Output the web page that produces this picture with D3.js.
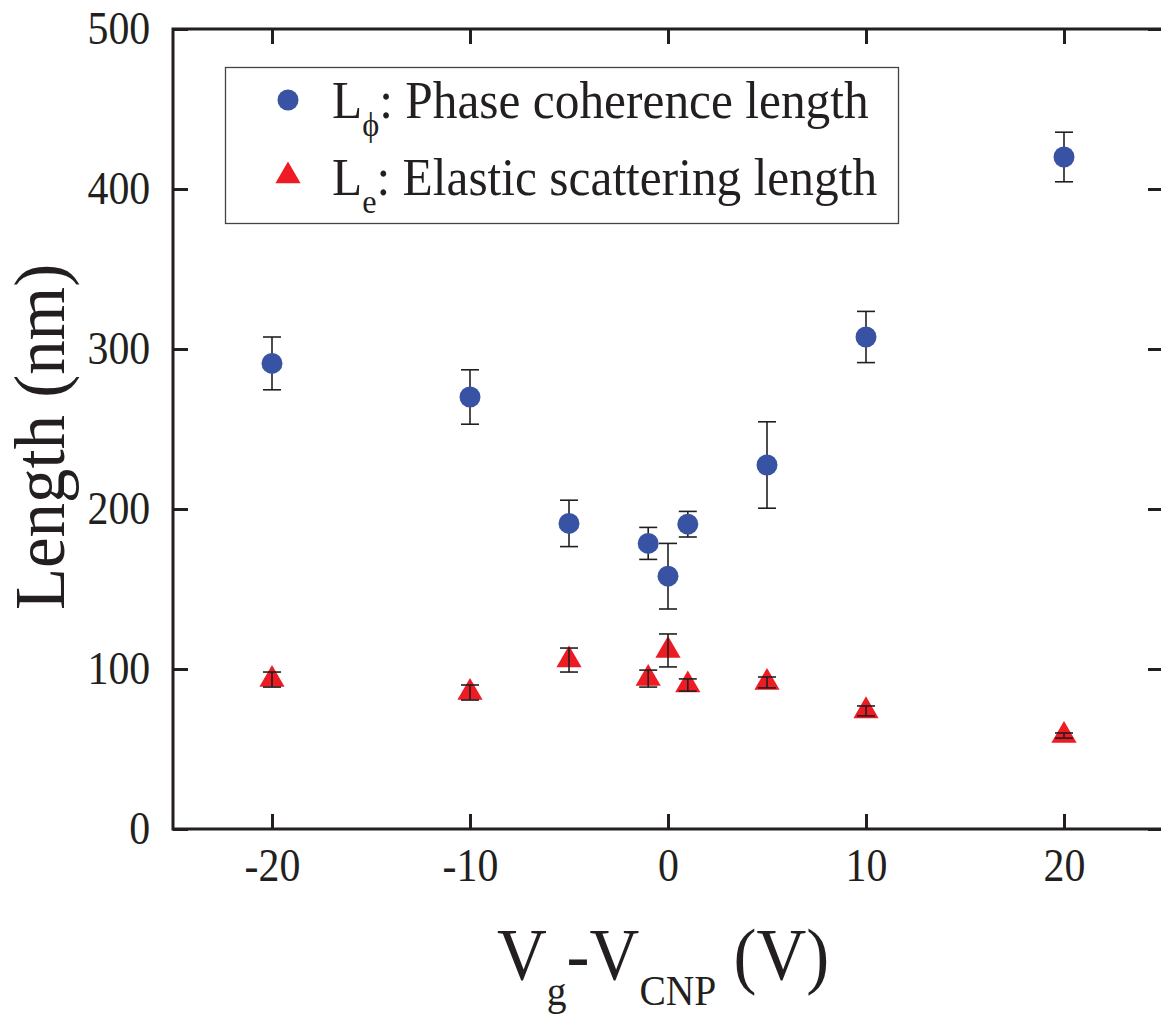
<!DOCTYPE html>
<html>
<head>
<meta charset="utf-8">
<script src="https://cdn.jsdelivr.net/npm/d3@7"></script>
<style>
  body { margin: 0; background: #fff; }
  text { font-family: "Liberation Serif", "Times New Roman", serif; fill: #231f20; }
</style>
</head>
<body>
<div id="chart"></div>
<script>
// gate voltage relative to charge neutrality point (V)
const vg = [-20, -10, -5, -1, 0, 1, 5, 10, 20];
// phase coherence length and its error (nm)
const lPhi = [291, 270, 191, 178.5, 158, 190.5, 227.5, 307.5, 420];
const lPhiErr = [16.5, 17, 14.5, 10, 20.5, 8, 27, 16, 15.5];
// elastic scattering length and its error (nm)
const lE = [93.4, 85.3, 105.6, 94, 111.6, 90, 91.6, 73.8, 58.4];
const lEErr = [4.7, 4.7, 7.5, 5.3, 10.3, 3.8, 3.4, 3.1, 1.6];

const xTicks = [-20, -10, 0, 10, 20];
const yTicks = [0, 100, 200, 300, 400, 500];

const w = 1161, h = 1015;
const ink = "#231f20";
const blue = "#3953a4", red = "#ed1c24";

const svg = d3.select("#chart").append("svg")
  .attr("width", w)
  .attr("height", h);

// scales
const x = d3.scaleLinear().domain([-25, 25]).range([173, 1163]);
const y = d3.scaleLinear().domain([0, 500]).range([829, 29]);

// axes, ticks pointing inward on all four sides
const axB = d3.axisBottom(x).tickValues(xTicks).tickSizeInner(-15).tickSizeOuter(0).tickPadding(19)
  .tickFormat(d => d < 0 ? "-" + Math.abs(d) : d);
const axT = d3.axisTop(x).tickValues(xTicks).tickSizeInner(-15).tickSizeOuter(0).tickFormat("");
const axL = d3.axisLeft(y).tickValues(yTicks).tickSizeInner(-15).tickSizeOuter(0).tickPadding(25);
const axR = d3.axisRight(y).tickValues(yTicks).tickSizeInner(-15).tickSizeOuter(0).tickFormat("");

function styleAxis(g) {
  g.select(".domain").remove();
  g.selectAll("line").attr("stroke", ink).attr("stroke-width", 3);
  g.selectAll("text")
    .attr("font-size", 46)
    .attr("font-family", null)
    .attr("fill", ink)
    .attr("transform", "scale(0.91,1)");
}

svg.append("g").attr("transform", "translate(0,829)").call(axB).call(styleAxis);
svg.append("g").attr("transform", "translate(0,29)").call(axT).call(styleAxis);
svg.append("g").attr("transform", "translate(173,0)").call(axL).call(styleAxis);
svg.append("g").attr("transform", "translate(1163,0)").call(axR).call(styleAxis);

// frame
svg.append("rect")
  .attr("x", x(-25)).attr("y", y(500))
  .attr("width", x(25) - x(-25)).attr("height", y(0) - y(500))
  .attr("fill", "none").attr("stroke", ink).attr("stroke-width", 3);

// error bars with caps
const capW = 9;
function errBars(vals, errs) {
  const g = svg.append("g").attr("stroke", ink).attr("stroke-width", 1.6);
  vg.forEach((v, i) => {
    const cx = x(v), y1 = y(vals[i] + errs[i]), y2 = y(vals[i] - errs[i]);
    g.append("line").attr("x1", cx).attr("x2", cx).attr("y1", y1).attr("y2", y2);
    g.append("line").attr("x1", cx - capW).attr("x2", cx + capW).attr("y1", y1).attr("y2", y1);
    g.append("line").attr("x1", cx - capW).attr("x2", cx + capW).attr("y1", y2).attr("y2", y2);
  });
}

// Lphi error bars sit under the circles
errBars(lPhi, lPhiErr);

const circleSym = d3.symbol().type(d3.symbolCircle).size(346);
const triSym = d3.symbol().type(d3.symbolTriangle).size(275);

svg.append("g").selectAll("path")
  .data(vg)
  .enter()
  .append("path")
  .attr("d", circleSym)
  .attr("transform", (d, i) => `translate(${x(d)},${y(lPhi[i])})`)
  .attr("fill", blue);

svg.append("g").selectAll("path")
  .data(vg)
  .enter()
  .append("path")
  .attr("d", triSym)
  .attr("transform", (d, i) => `translate(${x(d)},${y(lE[i])})`)
  .attr("fill", red);

// Le error bars are drawn over the triangles
errBars(lE, lEErr);

// legend
const leg = svg.append("g");
leg.append("rect")
  .attr("x", 225.5).attr("y", 67.5)
  .attr("width", 673).attr("height", 156)
  .attr("fill", "#fff").attr("stroke", "#444").attr("stroke-width", 1.3);
leg.append("path").attr("d", circleSym).attr("transform", "translate(288,100)").attr("fill", blue);
leg.append("path").attr("d", triSym).attr("transform", "translate(288,176)").attr("fill", red);

function legendLabel(yb, sub, rest) {
  const t = leg.append("text")
    .attr("transform", `translate(332,${yb}) scale(0.95,1)`)
    .attr("font-size", 52);
  t.append("tspan").text("L");
  t.append("tspan").attr("font-size", 34).attr("dy", 18).text(sub);
  t.append("tspan").attr("dy", -18).text(": " + rest);
}
legendLabel(118, "\u03D5", "Phase coherence length");
legendLabel(195, "e", "Elastic scattering length");

// axis titles
const xl = svg.append("text")
  .attr("transform", "translate(497,980) scale(0.92,1)")
  .attr("font-size", 75);
xl.append("tspan").text("V");
xl.append("tspan").attr("font-size", 43).attr("dy", 25).text("g");
xl.append("tspan").attr("dy", -25).text("-V");
xl.append("tspan").attr("font-size", 43).attr("dy", 25).text("CNP");
xl.append("tspan").attr("dy", -25).text(" (V)");

svg.append("text")
  .attr("transform", "translate(64,437) rotate(-90) scale(0.97,1)")
  .attr("text-anchor", "middle")
  .attr("font-size", 71)
  .text("Length (nm)");
</script>
</body>
</html>
